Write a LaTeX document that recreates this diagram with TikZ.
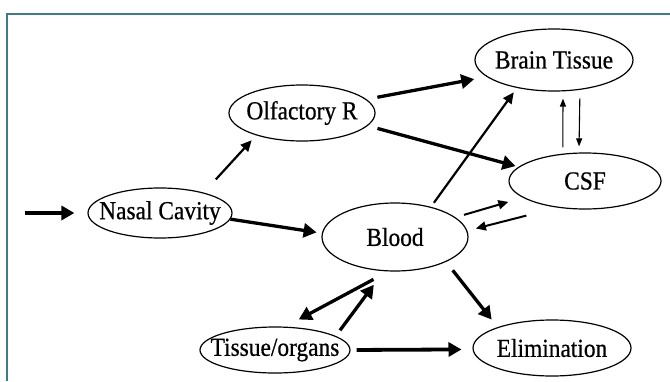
\documentclass[tikz,border=0pt]{standalone}
\usepackage{fontspec}
\setmainfont{Liberation Serif}[FakeStretch=0.9,FakeBold=0.6]
\usetikzlibrary{shapes.geometric,arrows.meta}
\definecolor{frameteal}{HTML}{3E7C8C}
\begin{document}
\begin{tikzpicture}[x=1pt,y=-1pt,
  st/.style={draw, ellipse, line width=1.2pt, inner sep=0pt,
    font=\fontsize{26}{28}\selectfont},
  thk/.style={line width=3.3pt, -{Triangle[length=13pt,width=14pt]}},
  med/.style={line width=2.2pt, -{Triangle[length=11pt,width=10pt]}},
  thinB/.style={line width=2pt, -{Triangle[length=10pt,width=9pt]}},
  thinA/.style={line width=1.1pt, -{Triangle[length=8pt,width=6pt]}}
]
\useasboundingbox (0,0) rectangle (670,381);
\draw[frameteal, line width=2pt] (7,381) -- (7,14) -- (670,14);

\node[st, minimum width=158pt, minimum height=62pt] (brain) at (554,60) {\makebox[0pt]{Brain Tissue}};
\node[st, minimum width=146pt, minimum height=56pt] (olf) at (302,113) {\makebox[0pt]{Olfactory R}};
\node[st, minimum width=152pt, minimum height=56pt] (csf) at (585,181) {\makebox[0pt]{CSF}};
\node[st, minimum width=144pt, minimum height=50pt] (nasal) at (160,213) {\makebox[0pt]{Nasal Cavity}};
\node[st, minimum width=146pt, minimum height=68pt] (blood) at (395,237) {\makebox[0pt]{Blood}};
\node[st, minimum width=150pt, minimum height=46pt] (tissue) at (275,350) {\makebox[0pt]{Tissue/organs}};
\node[st, minimum width=158pt, minimum height=56pt] (elim) at (552,348) {\makebox[0pt]{Elimination}};

\coordinate (in) at (25,213);

\draw[thk, shorten >=13pt] (in) -- (nasal.west);
\draw[med, shorten <=17.8pt, shorten >=6.6pt] (nasal.25.2) -- (olf.206.6);
\draw[thk, shorten >=5.3pt] (nasal.-5.7) -- (blood.177.5);
\draw[thk, shorten <=11pt, shorten >=12.6pt] (olf.12.5) -- (brain.194.1);
\draw[thk, shorten <=10pt, shorten >=3pt] (olf.-11.7) -- (csf.168.9);
\draw[med, shorten <=5pt, shorten >=5.4pt] (blood.40.5) -- (brain.217.7);
\draw[thinB, shorten <=8.8pt, shorten >=15pt] (blood.18.3) -- (csf.195.7);
\draw[thinB, shorten <=32pt, shorten >=8.8pt] (csf.224.4) -- (blood.5.5);
\draw[thinA, shorten <=6.2pt, shorten >=7.2pt] (csf.129.4) -- (brain.286.3);
\draw[thinA, shorten <=8.6pt, shorten >=6.1pt] (brain.-49.6) -- (csf.102.1);
\draw[thk, shorten <=10.7pt, shorten >=9.6pt] (blood.-26.1) -- (elim.159.2);
\draw[thk, line width=3.8pt, shorten <=6pt, shorten >=11pt] (tissue.east) -- (elim.181.5);
\draw[thk, shorten <=16.8pt, shorten >=15.1pt] (blood.259.7) -- (tissue.66.9);
\draw[thk, shorten <=7.1pt, shorten >=16.9pt] (tissue.13.7) -- (blood.252.5);
\end{tikzpicture}
\end{document}
